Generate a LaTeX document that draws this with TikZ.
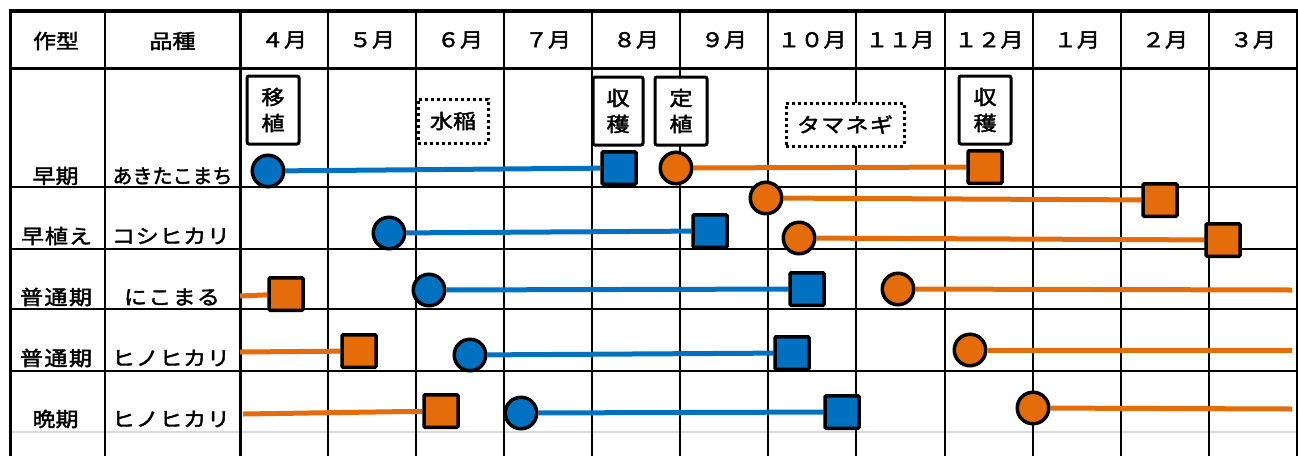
\documentclass[tikz,border=0pt]{standalone}
\usepackage{fontspec}
\newfontfamily\cjk[FakeStretch=1.15,FakeBold=2]{Noto Sans CJK JP}
\newfontfamily\cjknarrow[FakeBold=2]{Noto Sans CJK JP}
\definecolor{riceblue}{HTML}{0070C0}
\definecolor{onionorange}{HTML}{E46C0A}
\definecolor{palegray}{HTML}{D9D9D9}
\pgfdeclarelayer{back}
\pgfdeclarelayer{mid}
\pgfsetlayers{back,mid,main}
\begin{document}
\begin{tikzpicture}[x=1pt,y=-1pt,
  gridline/.style={line width=2pt},
  heavyline/.style={line width=3pt},
  txt/.style={font=\cjk\fontsize{20}{26}\selectfont, inner sep=0pt},
  eventbox/.style={draw, line width=3pt, rounded corners=2pt, fill=white, align=center,
    font=\cjk\fontsize{20}{26}\selectfont, inner sep=0pt},
  cropbox/.style={draw, line width=3pt, dash pattern=on 3pt off 3pt, fill=white,
    font=\cjk\fontsize{20}{26}\selectfont, inner sep=0pt},
  startpt/.style={circle, draw, line width=3.5pt, minimum size=31.5pt, inner sep=0pt},
  endpt/.style={rectangle, draw, line width=3.5pt, minimum width=34pt, minimum height=32.5pt,
    inner sep=0pt, rounded corners=1pt},
  rice/.style={fill=riceblue},
  onion/.style={fill=onionorange},
  riceline/.style={draw=riceblue, line width=5pt},
  onionline/.style={draw=onionorange, line width=5pt}]
\useasboundingbox (0,0) rectangle (1298,456);

% ---------- grid ----------
\begin{pgfonlayer}{back}
  \foreach \y in {187,249,309,371}
    \draw[gridline] (10,\y) -- (1297,\y);
  \draw[line width=2pt, palegray] (10,432) -- (1297,432);
  \foreach \x in {105,328,416,504,592,680,768,856,945,1033,1121,1209}
    \draw[gridline] (\x,11) -- (\x,456);
  \draw[heavyline] (240,11) -- (240,456);
  \draw[heavyline] (10,9.5) -- (10,456);
  \draw[heavyline] (1297,9.5) -- (1297,456);
  \draw[line width=3.5pt] (8.5,11) -- (1298,11);
  \draw[heavyline] (10,68) -- (1297,68);
\end{pgfonlayer}

% ---------- header ----------
\node[txt] (h1) at (56,41) {作型};
\node[txt] (h2) at (172.5,41) {品種};
\foreach \lab/\cx [count=\i] in {４月/284,５月/372,６月/460,７月/548,８月/636,９月/724,１０月/812,１１月/900,１２月/989,１月/1077,２月/1165,３月/1253}
  \node[txt] (m\i) at (\cx,40) {\makebox[0pt]{\lab}};

% ---------- row labels ----------
\node[txt] (t1) at (55.5,176) {早期};
\node[txt, font=\cjknarrow\fontsize{20}{26}\selectfont] (v1) at (172.5,176) {あきたこまち};
\node[txt] (t2) at (56.5,236) {\makebox[71pt][s]{早\hfill 植\hfill え}};
\node[txt] (v2) at (171,236) {\makebox[118pt][s]{コ\hfill シ\hfill ヒ\hfill カ\hfill リ}};
\node[txt] (t3) at (56,297) {\makebox[72pt][s]{普\hfill 通\hfill 期}};
\node[txt] (v3) at (172,297) {\makebox[96pt][s]{に\hfill こ\hfill ま\hfill る}};
\node[txt] (t4) at (56,358) {\makebox[72pt][s]{普\hfill 通\hfill 期}};
\node[txt] (v4) at (171,358) {\makebox[118pt][s]{ヒ\hfill ノ\hfill ヒ\hfill カ\hfill リ}};
\node[txt] (t5) at (55.5,419) {晩期};
\node[txt] (v5) at (171,419) {\makebox[118pt][s]{ヒ\hfill ノ\hfill ヒ\hfill カ\hfill リ}};

% ---------- event boxes ----------
\node[eventbox, minimum width=52pt, minimum height=68pt] (b1) at (273,110) {移\\植};
\node[cropbox, minimum width=70pt, minimum height=44pt] (b2) at (453,121) {水稲};
\node[eventbox, minimum width=50pt, minimum height=68pt] (b3) at (618,111) {収\\穫};
\node[eventbox, minimum width=52pt, minimum height=68pt] (b4) at (681,111) {定\\植};
\node[cropbox, minimum width=118pt, minimum height=43pt] (b5) at (845,124.5) {\makebox[96pt][s]{タ\hfill マ\hfill ネ\hfill ギ}};
\node[eventbox, minimum width=52pt, minimum height=68pt] (b6) at (985,110) {収\\穫};

% ---------- markers ----------
\node[startpt, rice]  (c1) at (268,171) {};
\node[endpt, rice]    (s1) at (619,168) {};
\node[startpt, onion] (c2) at (676,168) {};
\node[endpt, onion]   (s2) at (985,167) {};
\node[startpt, onion] (c3) at (766,198) {};
\node[endpt, onion]   (s3) at (1160,200) {};
\node[startpt, rice]  (c4) at (389,233) {};
\node[endpt, rice]    (s4) at (710,231) {};
\node[startpt, onion] (c5) at (799,238) {};
\node[endpt, onion]   (s5) at (1223,240) {};
\coordinate (f6) at (240,296);
\node[endpt, onion]   (s6) at (286,294) {};
\node[startpt, rice]  (c7) at (429,290) {};
\node[endpt, rice]    (s7) at (807,289) {};
\node[startpt, onion] (c8) at (898,289) {};
\coordinate (e8) at (1292,290);
\coordinate (f9) at (240,352);
\node[endpt, onion]   (s9) at (359,351) {};
\node[startpt, rice]  (c10) at (470,355) {};
\node[endpt, rice]    (s10) at (792,353) {};
\node[startpt, onion] (c11) at (970,350) {};
\coordinate (e11) at (1292,350);
\coordinate (f12) at (243,414);
\node[endpt, onion]   (s12) at (441,411) {};
\node[startpt, rice]  (c13) at (521,413) {};
\node[endpt, rice]    (s13) at (842,412) {};
\node[startpt, onion] (c14) at (1033,408) {};
\coordinate (e14) at (1292,409);

% ---------- connectors ----------
\begin{pgfonlayer}{mid}
  \draw[riceline]  (c1) -- (s1);
  \draw[onionline] (c2) -- (s2);
  \draw[onionline] (c3) -- (s3);
  \draw[riceline]  (c4) -- (s4);
  \draw[onionline] (c5) -- (s5);
  \draw[onionline] (f6) -- (s6);
  \draw[riceline]  (c7) -- (s7);
  \draw[onionline] (c8) -- (e8);
  \draw[onionline] (f9) -- (s9);
  \draw[riceline]  (c10) -- (s10);
  \draw[onionline] (c11) -- (e11);
  \draw[onionline] (f12) -- (s12);
  \draw[riceline]  (c13) -- (s13);
  \draw[onionline] (c14) -- (e14);
\end{pgfonlayer}
\end{tikzpicture}
\end{document}
